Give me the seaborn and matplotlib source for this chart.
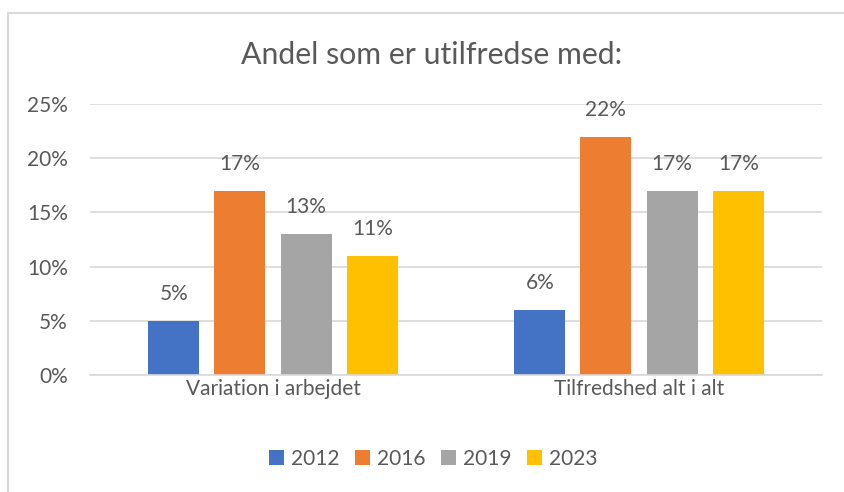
import matplotlib
matplotlib.use("Agg")
import matplotlib.pyplot as plt
import seaborn as sns
import pandas as pd
from matplotlib.lines import Line2D
from matplotlib.patches import Patch
from matplotlib.ticker import PercentFormatter

categories = ["Variation i arbejdet", "Tilfredshed alt i alt"]
years = ["2012", "2016", "2019", "2023"]
values_2012 = [0.05, 0.06]
values_2016 = [0.17, 0.22]
values_2019 = [0.13, 0.17]
values_2023 = [0.11, 0.17]
yticks = [0, 0.05, 0.10, 0.15, 0.20, 0.25]
title = "Andel som er utilfredse med:"
colors = ["#4472C4", "#ED7D31", "#A5A5A5", "#FFC000"]

series = [values_2012, values_2016, values_2019, values_2023]
rows = []
for y, vals in zip(years, series):
    for c, v in zip(categories, vals):
        rows.append({"Kategori": c, "År": y, "Andel": v})
df = pd.DataFrame(rows)

sns.set_theme(style="white")
plt.rcParams["font.family"] = ["Lato", "DejaVu Sans"]
TXT = "#595959"
GRID = "#D9D9D9"
FS = 15

fig = plt.figure(figsize=(8.45, 4.92), dpi=100)
W, H = 845, 492
ax = fig.add_axes([90 / W, 1 - 375 / H, (822 - 90) / W, (375 - 104) / H])

sns.barplot(data=df, x="Kategori", y="Andel", hue="År", palette=colors,
            width=0.723, gap=0.227, ax=ax, legend=False, saturation=1,
            edgecolor="none")

ax.set_ylim(0, 0.25)
ax.set_yticks(yticks)
ax.yaxis.set_major_formatter(PercentFormatter(1.0, decimals=0))
ax.set_xlim(-0.5, 1.5)
ax.grid(axis="y", color=GRID, linewidth=1.2)
ax.set_axisbelow(True)
for s in ["top", "right", "left"]:
    ax.spines[s].set_visible(False)
ax.spines["bottom"].set_color(GRID)
ax.spines["bottom"].set_linewidth(1.2)
ax.tick_params(axis="both", length=0, colors=TXT, labelsize=FS)
ax.tick_params(axis="y", pad=16)
ax.tick_params(axis="x", pad=3)
ax.set_xlabel("")
ax.set_ylabel("")

for cont in ax.containers:
    ax.bar_label(cont, labels=[f"{v*100:.0f}%" for v in cont.datavalues],
                 padding=12, color=TXT, fontsize=FS)

fig.text(432 / W, 1 - 55 / H, title, ha="center", va="center", fontsize=21.8, color=TXT)

handles = [Patch(facecolor=c, edgecolor="none", label=y) for c, y in zip(colors, years)]
fig.legend(handles=handles, loc="center", bbox_to_anchor=(433.5 / W, 1 - 459 / H), ncol=4,
           frameon=False, fontsize=FS, labelcolor=TXT, handlelength=0.7,
           handleheight=0.7, handletextpad=0.35, columnspacing=0.75)

fig.add_artist(Line2D([8.5 / W, 8.5 / W], [0, 1 - 12.5 / H], transform=fig.transFigure,
                      color=GRID, linewidth=1.5))
fig.add_artist(Line2D([8.5 / W, 1], [1 - 12.5 / H, 1 - 12.5 / H], transform=fig.transFigure,
                      color=GRID, linewidth=1.5))

fig.savefig("out.png", dpi=100, facecolor="white")
